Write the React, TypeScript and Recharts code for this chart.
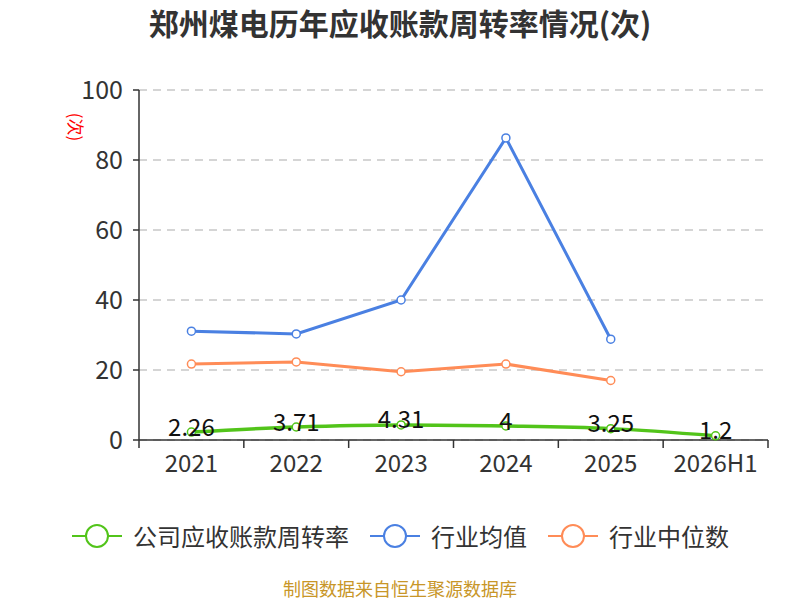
import React from 'react';
import { CartesianGrid, LabelList, Line, LineChart, XAxis, YAxis } from 'recharts';

const years = ['2021', '2022', '2023', '2024', '2025', '2026H1'];
const companyTurnover = [2.26, 3.71, 4.31, 4, 3.25, 1.2];
const industryMean = [31.1, 30.3, 40.0, 86.3, 28.8, null];
const industryMedian = [21.7, 22.3, 19.5, 21.7, 17.0, null];
const yTicks = [0, 20, 40, 60, 80, 100];

const GREEN = '#52C41A';
const BLUE = '#4A80E2';
const ORANGE = '#FF8C57';
const FONT = '"Noto Sans CJK SC", "Noto Sans", sans-serif';

const data = years.map((year, i) => ({
  year,
  company: companyTurnover[i],
  mean: industryMean[i],
  median: industryMedian[i],
}));

const legendItems = [
  { name: '公司应收账款周转率', color: GREEN },
  { name: '行业均值', color: BLUE },
  { name: '行业中位数', color: ORANGE },
];

const PLOT_LEFT = 139;
const PLOT_RIGHT = 768;
const BAND = (PLOT_RIGHT - PLOT_LEFT) / years.length;

function XTick(props: any) {
  const { x, y, payload, index } = props;
  const top = y - 8;
  return (
    <g>
      <line x1={x - BAND / 2} x2={x - BAND / 2} y1={top} y2={top + 8} stroke="#333" strokeWidth={1.5} />
      {index === years.length - 1 && (
        <line x1={x + BAND / 2} x2={x + BAND / 2} y1={top} y2={top + 8} stroke="#333" strokeWidth={1.5} />
      )}
      <text x={x} y={top + 25} textAnchor="middle" dominantBaseline="middle" fill="#333" fontSize={24} fontFamily={FONT}>
        {payload.value}
      </text>
    </g>
  );
}

function ValueLabel(props: any) {
  const { x, y, value } = props;
  return (
    <text x={x} y={y - 3} textAnchor="middle" dominantBaseline="middle" fill="#111" fontSize={24} fontFamily={FONT}>
      {value}
    </text>
  );
}

function LegendIcon({ color }: { color: string }) {
  return (
    <svg width={52} height={26} style={{ display: 'block' }}>
      <line x1={1} x2={51} y1={13} y2={13} stroke={color} strokeWidth={2} />
      <circle cx={26} cy={13} r={11} fill="#fff" stroke={color} strokeWidth={2} />
    </svg>
  );
}

export default function App() {
  return (
    <div style={{ position: 'absolute', left: 0, top: 0, width: 800, height: 600, background: '#fff', fontFamily: FONT }}>
      <div
        style={{
          position: 'absolute',
          top: 2,
          left: 0,
          width: 800,
          textAlign: 'center',
          fontSize: 30,
          lineHeight: '40px',
          fontWeight: 'bold',
          color: '#333',
        }}
      >
        郑州煤电历年应收账款周转率情况(次)
      </div>
      <LineChart width={800} height={600} data={data} margin={{ top: 90, right: 32, bottom: 130, left: 0 }}>
        <CartesianGrid vertical={false} stroke="#c8c8c8" strokeDasharray="8 6" strokeWidth={1.5} />
        <XAxis
          dataKey="year"
          height={30}
          stroke="#333"
          strokeWidth={1.5}
          tickLine={false}
          tick={<XTick />}
          interval={0}
          padding={{ left: BAND / 2, right: BAND / 2 }}
        />
        <YAxis
          width={139}
          domain={[0, 100]}
          ticks={yTicks}
          stroke="#333"
          strokeWidth={1.5}
          tickSize={6}
          tick={{ fill: '#333', fontSize: 25, fontFamily: FONT }}
          tickMargin={10}
          label={({ viewBox }: any) => (
            <text
              x={0}
              y={0}
              transform={`translate(${viewBox.x + 74}, ${viewBox.y + 37}) rotate(90)`}
              textAnchor="middle"
              dominantBaseline="middle"
              fill="#ff0000"
              fontSize={17}
              fontFamily={FONT}
            >
              (次)
            </text>
          )}
        />
        <Line
          type="linear"
          dataKey="mean"
          stroke={BLUE}
          strokeWidth={3}
          dot={{ r: 4, fill: '#fff', stroke: BLUE, strokeWidth: 1.5 }}
          isAnimationActive={false}
        />
        <Line
          type="linear"
          dataKey="median"
          stroke={ORANGE}
          strokeWidth={3}
          dot={{ r: 4, fill: '#fff', stroke: ORANGE, strokeWidth: 1.5 }}
          isAnimationActive={false}
        />
        <Line
          type="monotone"
          dataKey="company"
          stroke={GREEN}
          strokeWidth={3.5}
          dot={{ r: 4, fill: '#fff', stroke: GREEN, strokeWidth: 1.5 }}
          isAnimationActive={false}
        >
          <LabelList dataKey="company" content={<ValueLabel />} />
        </Line>
      </LineChart>
      <div
        style={{
          position: 'absolute',
          top: 520,
          left: 0,
          width: 800,
          display: 'flex',
          justifyContent: 'center',
          alignItems: 'center',
          gap: 20,
        }}
      >
        {legendItems.map((item) => (
          <div key={item.name} style={{ display: 'flex', alignItems: 'center', gap: 10 }}>
            <LegendIcon color={item.color} />
            <span style={{ fontSize: 24, lineHeight: '32px', color: '#333' }}>{item.name}</span>
          </div>
        ))}
      </div>
      <div
        style={{
          position: 'absolute',
          top: 577,
          left: 0,
          width: 800,
          textAlign: 'center',
          fontSize: 18,
          lineHeight: '22px',
          color: '#C89628',
        }}
      >
        制图数据来自恒生聚源数据库
      </div>
    </div>
  );
}
